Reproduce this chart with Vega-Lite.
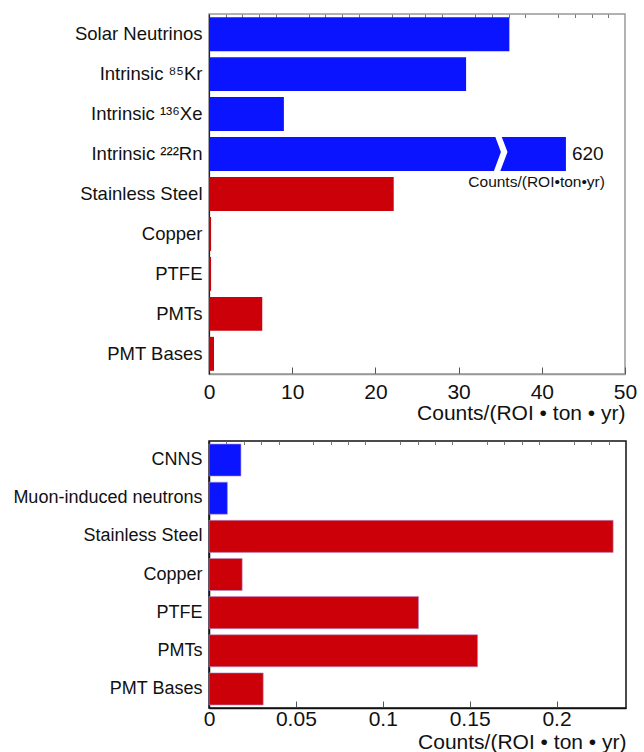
{
  "$schema": "https://vega.github.io/schema/vega-lite/v6.json",
  "padding": {"left": 12, "top": 12, "right": 14, "bottom": 0},
  "spacing": 15,
  "config": {
    "font": "Liberation Sans",
    "axis": {"labelColor": "#111", "titleColor": "#111", "titleFontWeight": "normal", "grid": false, "labelLimit": 400},
    "axisX": {"labelFlush": false}
  },
  "vconcat": [
    {
      "width": 416,
      "height": 360,
      "view": {"stroke": "#999", "strokeWidth": 1.5},
      "data": {"values": [
        {"source": "Solar Neutrinos", "value": 36.1, "kind": "blue"},
        {"source": "Intrinsic ⁸⁵Kr", "value": 30.9, "kind": "blue"},
        {"source": "Intrinsic ¹³⁶Xe", "value": 9.0, "kind": "blue"},
        {"source": "Intrinsic ²²²Rn", "value": 42.9, "kind": "blue", "label": "620", "unit": "Counts/(ROI•ton•yr)", "brk": 34.9},
        {"source": "Stainless Steel", "value": 22.2, "kind": "red"},
        {"source": "Copper", "value": 0.25, "kind": "red"},
        {"source": "PTFE", "value": 0.25, "kind": "red"},
        {"source": "PMTs", "value": 6.4, "kind": "red"},
        {"source": "PMT Bases", "value": 0.6, "kind": "red"}
      ]},
      "encoding": {
        "y": {"field": "source", "type": "nominal", "sort": null,
          "scale": {"paddingInner": 0.15, "paddingOuter": 0.08},
          "axis": {"title": null, "ticks": false, "labelFontSize": 18.5, "labelPadding": 7, "domainColor": "#222", "domainWidth": 1.2}}
      },
      "layer": [
        {
          "mark": {"type": "bar"},
          "encoding": {
            "x": {"field": "value", "type": "quantitative", "scale": {"domain": [0, 50], "nice": false},
              "axis": {"values": [0, 10, 20, 30, 40, 50], "labelFlush": false, "title": "Counts/(ROI • ton • yr)", "titleAnchor": "end", "titleFontSize": 21, "titlePadding": 0, "labelFontSize": 21, "tickSize": -7, "tickColor": "#555", "labelPadding": 14, "domainColor": "#999", "domainWidth": 1.5}},
            "color": {"field": "kind", "type": "nominal", "scale": {"domain": ["blue", "red"], "range": ["#0a14ff", "#cc0008"]}, "legend": null}
          }
        },
        {
          "transform": [{"filter": "datum.brk != null"}],
          "mark": {"type": "point", "filled": true, "color": "white", "opacity": 1, "size": 1500,
            "shape": "M -0.25,-1 L 0.08,-1 L 0.42,-0.1 L 0.0,1 L -0.33,1 L 0.08,-0.1 Z"},
          "encoding": {
            "x": {"field": "brk", "type": "quantitative",
              "axis": {"values": [2, 4, 6, 8, 12, 14, 16, 18, 22, 24, 26, 28, 32, 34, 36, 38, 42, 44, 46, 48], "labels": false, "title": null, "domain": false, "tickSize": -3.5, "tickColor": "#777"}}
          }
        },
        {
          "transform": [{"filter": "datum.label != null"}],
          "mark": {"type": "text", "align": "left", "baseline": "middle", "dx": 6, "fontSize": 19, "color": "#111"},
          "encoding": {
            "x": {"field": "value", "type": "quantitative", "axis": null},
            "text": {"field": "label"}
          }
        },
        {
          "transform": [{"filter": "datum.unit != null"}],
          "mark": {"type": "text", "align": "right", "baseline": "middle", "dx": 39, "dy": 28, "fontSize": 15.5, "color": "#111"},
          "encoding": {
            "x": {"field": "value", "type": "quantitative", "axis": null},
            "text": {"field": "unit"}
          }
        }
      ],
      "resolve": {"axis": {"x": "independent"}}
    },
    {
      "width": 417,
      "height": 267,
      "view": {"stroke": "#111", "strokeWidth": 1.5},
      "data": {"values": [
        {"source": "CNNS", "value": 0.0184, "kind": "blue"},
        {"source": "Muon-induced neutrons", "value": 0.0106, "kind": "blue"},
        {"source": "Stainless Steel", "value": 0.2326, "kind": "red"},
        {"source": "Copper", "value": 0.0191, "kind": "red"},
        {"source": "PTFE", "value": 0.1206, "kind": "red"},
        {"source": "PMTs", "value": 0.1546, "kind": "red"},
        {"source": "PMT Bases", "value": 0.0312, "kind": "red"}
      ]},
      "encoding": {
        "y": {"field": "source", "type": "nominal", "sort": null,
          "scale": {"paddingInner": 0.16, "paddingOuter": 0.08},
          "axis": {"title": null, "ticks": false, "labelFontSize": 18, "labelPadding": 7, "domainColor": "#111", "domainWidth": 1.5}}
      },
      "layer": [
        {
          "mark": {"type": "bar", "stroke": "#b48fd0", "strokeWidth": 0.6},
          "encoding": {
            "x": {"field": "value", "type": "quantitative", "scale": {"domain": [0, 0.24], "nice": false},
              "axis": {"values": [0, 0.05, 0.1, 0.15, 0.2], "labelFlush": false, "format": "~g", "title": "Counts/(ROI • ton • yr)", "titleAnchor": "end", "titleFontSize": 21, "titlePadding": 2, "labelFontSize": 21, "tickSize": -7, "tickColor": "#555", "labelPadding": 7, "domainColor": "#111", "domainWidth": 1.5}},
            "color": {"field": "kind", "type": "nominal", "scale": {"domain": ["blue", "red"], "range": ["#0000ff", "#cc0000"]}, "legend": null}
          }
        },
        {
          "mark": {"type": "point", "opacity": 0},
          "encoding": {
            "x": {"field": "value", "type": "quantitative",
              "axis": {"values": [0.01, 0.02, 0.03, 0.04, 0.06, 0.07, 0.08, 0.09, 0.11, 0.12, 0.13, 0.14, 0.16, 0.17, 0.18, 0.19, 0.21, 0.22, 0.23], "labels": false, "title": null, "domain": false, "tickSize": -3.5, "tickColor": "#777"}}
          }
        }
      ],
      "resolve": {"axis": {"x": "independent"}}
    }
  ]
}
